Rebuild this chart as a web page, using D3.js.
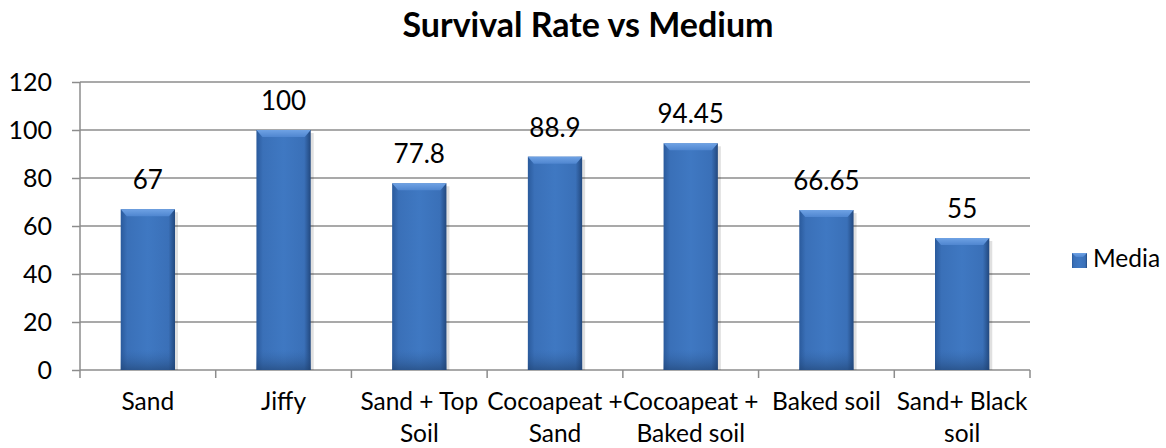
<!DOCTYPE html>
<html><head><meta charset="utf-8">
<script src="https://cdn.jsdelivr.net/npm/d3@7"></script>
<style>html,body{margin:0;padding:0;background:#fff;} svg{display:block;font-family:Lato, "Open Sans", sans-serif;}</style>
</head><body>
<script>
const categories = ["Sand", "Jiffy", "Sand + Top Soil", "Cocoapeat + Sand", "Cocoapeat + Baked soil", "Baked soil", "Sand+ Black soil"];
const categoryLines = [["Sand"], ["Jiffy"], ["Sand + Top", "Soil"], ["Cocoapeat +", "Sand"], ["Cocoapeat +", "Baked soil"], ["Baked soil"], ["Sand+ Black", "soil"]];
const values = [67, 100, 77.8, 88.9, 94.45, 66.65, 55];
const valueLabels = ["67", "100", "77.8", "88.9", "94.45", "66.65", "55"];
const yTicks = [0, 20, 40, 60, 80, 100, 120];
const seriesName = "Media";
const title = "Survival Rate vs Medium";

const W = 1166, H = 448;
const svg = d3.select("body").append("svg").attr("width", W).attr("height", H);
const defs = svg.append("defs");
const gH = defs.append("linearGradient").attr("id", "barH").attr("x1", 0).attr("x2", 1).attr("y1", 0).attr("y2", 0);
gH.append("stop").attr("offset", "0%").attr("stop-color", "#2a5a9c");
gH.append("stop").attr("offset", "12%").attr("stop-color", "#3a70b8");
gH.append("stop").attr("offset", "50%").attr("stop-color", "#3f78c2");
gH.append("stop").attr("offset", "88%").attr("stop-color", "#3a70b8");
gH.append("stop").attr("offset", "100%").attr("stop-color", "#22487e");
const gT = defs.append("linearGradient").attr("id", "barT").attr("x1", 0).attr("x2", 0).attr("y1", 0).attr("y2", 1);
gT.append("stop").attr("offset", "0%").attr("stop-color", "#6fa2e4");
gT.append("stop").attr("offset", "100%").attr("stop-color", "#4f86d0");
const gB = defs.append("linearGradient").attr("id", "barB").attr("x1", 0).attr("x2", 0).attr("y1", 0).attr("y2", 1);
gB.append("stop").attr("offset", "0%").attr("stop-color", "#2f5f9f").attr("stop-opacity", 0);
gB.append("stop").attr("offset", "100%").attr("stop-color", "#1f416f").attr("stop-opacity", 0.6);

const x0 = 80, x1 = 1030, yTop = 82, yBot = 370;
const x = d3.scaleBand().domain(categories).range([x0, x1]).paddingInner(0.6).paddingOuter(0.3);
const y = d3.scaleLinear().domain([0, 120]).range([yBot, yTop]);

// gridlines
svg.append("g").selectAll("line").data(yTicks.filter(d => d > 0)).join("line")
  .attr("x1", x0).attr("x2", x1).attr("y1", d => y(d)).attr("y2", d => y(d))
  .attr("stroke", "#8c8c8c").attr("stroke-width", 1.5);

// y axis
const ya = svg.append("g").attr("transform", `translate(${x0},0)`)
  .call(d3.axisLeft(y).tickValues(yTicks).tickSize(8).tickPadding(20));
ya.select(".domain").attr("stroke", "#8c8c8c").attr("stroke-width", 1.5).attr("d", `M-0,${yTop}V${yBot}`);
ya.selectAll(".tick line").attr("stroke", "#8c8c8c").attr("stroke-width", 1.5);
ya.selectAll(".tick text").attr("font-size", 25).attr("fill", "#000").attr("font-family", "Lato, sans-serif");

// x axis
const xg = svg.append("g");
xg.append("line").attr("x1", x0).attr("x2", x1).attr("y1", yBot).attr("y2", yBot).attr("stroke", "#8c8c8c").attr("stroke-width", 1.5);
const step = (x1 - x0) / categories.length;
xg.selectAll("line.tk").data(d3.range(categories.length + 1)).join("line").attr("class", "tk")
  .attr("x1", i => x0 + i * step).attr("x2", i => x0 + i * step).attr("y1", yBot).attr("y2", yBot + 8)
  .attr("stroke", "#8c8c8c").attr("stroke-width", 1.5);
const cl = xg.selectAll("text").data(categories).join("text")
  .attr("x", d => x(d) + x.bandwidth() / 2).attr("y", 410)
  .attr("text-anchor", "middle").attr("font-size", 24.5).attr("fill", "#000");
cl.each(function(d, i) {
  const t = d3.select(this);
  categoryLines[i].forEach((ln, j) => t.append("tspan").attr("x", x(d) + x.bandwidth() / 2).attr("dy", j === 0 ? 0 : 32).text(ln));
});

// bars
const bars = svg.append("g").selectAll("g").data(categories).join("g");
bars.append("rect").attr("x", d => x(d) + 3).attr("y", (d, i) => y(values[i]) + 3)
  .attr("width", x.bandwidth()).attr("height", (d, i) => yBot - y(values[i]) - 3)
  .attr("fill", "#000").attr("opacity", 0.12);
bars.append("rect").attr("x", d => x(d)).attr("y", (d, i) => y(values[i]))
  .attr("width", x.bandwidth()).attr("height", (d, i) => yBot - y(values[i]))
  .attr("fill", "url(#barH)");
bars.append("path").attr("d", (d, i) => {
  const bx = x(d), bw = x.bandwidth(), by = y(values[i]);
  return `M${bx},${by}H${bx + bw}L${bx + bw - 6},${by + 7}H${bx + 6}Z`;
}).attr("fill", "url(#barT)");
bars.append("rect").attr("x", d => x(d)).attr("y", (d, i) => yBot - Math.min(20, yBot - y(values[i])))
  .attr("width", x.bandwidth()).attr("height", (d, i) => Math.min(20, yBot - y(values[i])))
  .attr("fill", "url(#barB)");

// value labels
svg.append("g").selectAll("text").data(categories).join("text")
  .attr("x", d => x(d) + x.bandwidth() / 2).attr("y", (d, i) => y(values[i]) - 20)
  .attr("text-anchor", "middle").attr("font-size", 26).attr("fill", "#000")
  .text((d, i) => valueLabels[i]);

// title
svg.append("text").attr("x", 588).attr("y", 37).attr("text-anchor", "middle")
  .attr("font-size", 34).attr("font-weight", "bold").attr("fill", "#000").text(title);

// legend
const lg = svg.append("g");
lg.append("rect").attr("x", 1072).attr("y", 253).attr("width", 15).attr("height", 15).attr("fill", "url(#barH)");
lg.append("path").attr("d", "M1072,253H1087L1083,257H1076Z").attr("fill", "url(#barT)");
lg.append("text").attr("x", 1093).attr("y", 267).attr("font-size", 24.5).attr("fill", "#000").text(seriesName);
</script>
</body></html>
